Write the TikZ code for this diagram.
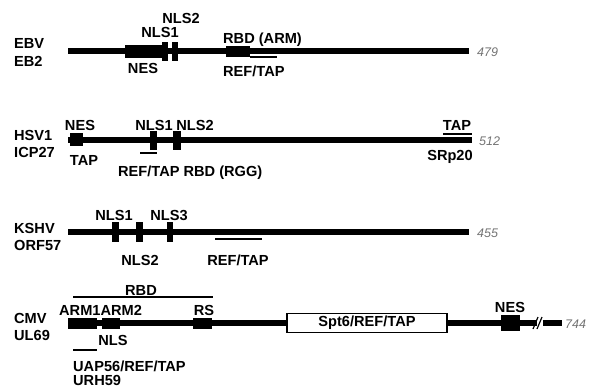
\documentclass[tikz,border=0pt]{standalone}
\usepackage{fontspec}
\setmainfont{Liberation Sans}
\begin{document}
\begin{tikzpicture}[x=1pt,y=-1pt,
  bb/.style={line width=6pt},
  thinl/.style={line width=2pt},
  dom/.style={fill=black,draw=none,inner sep=0pt,outer sep=0pt,rectangle},
  lab/.style={inner sep=0pt,font=\bfseries\fontsize{14.6}{14.6}\selectfont},
  num/.style={inner sep=0pt,text=black!55,font=\itshape\fontsize{12.5}{12.5}\selectfont},
  spt/.style={draw=black,line width=1.6pt,fill=white,inner sep=0pt,minimum width=160pt,minimum height=19pt,font=\bfseries\fontsize{14.6}{14.6}\selectfont}
]
\useasboundingbox (0,0) rectangle (591,388);
% ---------------- EBV EB2
\coordinate (e0) at (68,51); \coordinate (e1) at (469,51);
\draw[bb] (e0) -- (e1);
\node[dom,minimum width=42pt,minimum height=13pt] (ebvnes) at (146,51) {};
\node[dom,minimum width=6pt,minimum height=19pt] (ebvn1) at (164.5,51) {};
\node[dom,minimum width=6pt,minimum height=19pt] (ebvn2) at (175,51) {};
\node[dom,minimum width=24pt,minimum height=11pt] (ebvrbd) at (238,51.5) {};
\coordinate (er0) at (250,57); \coordinate (er1) at (277,57);
\draw[thinl] (er0) -- (er1);
\node[lab,anchor=base west] (ebvA) at (14,48) {EBV};
\node[lab,anchor=base west] (ebvB) at (14,66) {EB2};
\node[lab,anchor=base] (ebvL2) at (181,23) {NLS2};
\node[lab,anchor=base] (ebvL1) at (160,37) {NLS1};
\node[lab,anchor=base] (ebvLn) at (143,73) {NES};
\node[lab,anchor=base west] (ebvLr) at (223,43) {RBD (ARM)};
\node[lab,anchor=base west] (ebvLt) at (223,76) {REF/TAP};
\node[num,anchor=base west] (ebvN) at (477,56) {479};
% ---------------- HSV1 ICP27
\coordinate (h0) at (68,140); \coordinate (h1) at (472,140);
\draw[bb] (h0) -- (h1);
\node[dom,minimum width=13pt,minimum height=13pt] (hsvnes) at (76.5,139.5) {};
\node[dom,minimum width=7pt,minimum height=19pt] (hsvn1) at (153.5,140.5) {};
\node[dom,minimum width=8pt,minimum height=19pt] (hsvn2) at (177,140.5) {};
\coordinate (hr0) at (140,153); \coordinate (hr1) at (157,153);
\draw[thinl] (hr0) -- (hr1);
\coordinate (ht0) at (443,134); \coordinate (ht1) at (472,134);
\draw[thinl] (ht0) -- (ht1);
\node[lab,anchor=base west] (hsvA) at (14,140) {HSV1};
\node[lab,anchor=base west] (hsvB) at (14,157) {ICP27};
\node[lab,anchor=base] (hsvLn) at (80,130) {NES};
\node[lab,anchor=base] (hsvLt) at (84,165) {TAP};
\node[lab,anchor=base] (hsvL1) at (154,130) {NLS1};
\node[lab,anchor=base] (hsvL2) at (195,130) {NLS2};
\node[lab,anchor=base west] (hsvLr) at (118,176) {REF/TAP RBD (RGG)};
\node[lab,anchor=base] (hsvLtap) at (457,130) {TAP};
\node[lab,anchor=base] (hsvLsr) at (450,160) {SRp20};
\node[num,anchor=base west] (hsvN) at (479,145) {512};
% ---------------- KSHV ORF57
\coordinate (k0) at (68,232); \coordinate (k1) at (469,232);
\draw[bb] (k0) -- (k1);
\node[dom,minimum width=7pt,minimum height=20pt] (kn1) at (115.5,232) {};
\node[dom,minimum width=7pt,minimum height=20pt] (kn2) at (139,232) {};
\node[dom,minimum width=6pt,minimum height=20pt] (kn3) at (169.5,232) {};
\coordinate (kr0) at (215,239); \coordinate (kr1) at (262,239);
\draw[thinl] (kr0) -- (kr1);
\node[lab,anchor=base west] (kA) at (14,233) {KSHV};
\node[lab,anchor=base west] (kB) at (14,250) {ORF57};
\node[lab,anchor=base] (kL1) at (114,220) {NLS1};
\node[lab,anchor=base] (kL3) at (169,220) {NLS3};
\node[lab,anchor=base] (kL2) at (140,265) {NLS2};
\node[lab,anchor=base] (kLr) at (238,265) {REF/TAP};
\node[num,anchor=base west] (kN) at (477,237) {455};
% ---------------- CMV UL69
\coordinate (c0) at (68,323); \coordinate (c1) at (537,323);
\coordinate (c2) at (543,323); \coordinate (c3) at (562,323);
\draw[bb] (c0) -- (c1);
\draw[bb] (c2) -- (c3);
\node[dom,minimum width=29pt,minimum height=11pt] (arm1) at (82.5,323.5) {};
\node[dom,minimum width=18pt,minimum height=11pt] (arm2) at (111,323.5) {};
\node[dom,minimum width=19pt,minimum height=11pt] (rs) at (202.5,323.5) {};
\node[spt] (spt6) at (367,323) {Spt6/REF/TAP};
\node[dom,minimum width=19pt,minimum height=16pt] (cnes) at (510.5,323) {};
\coordinate (s1a) at (533,329); \coordinate (s1b) at (538,317);
\coordinate (s2a) at (537,329); \coordinate (s2b) at (542,317);
\draw[line width=1.2pt] (s1a) -- (s1b);
\draw[line width=1.2pt] (s2a) -- (s2b);
\coordinate (cr0) at (73,297); \coordinate (cr1) at (213,297);
\draw[thinl] (cr0) -- (cr1);
\coordinate (cu0) at (73,350); \coordinate (cu1) at (97,350);
\draw[thinl] (cu0) -- (cu1);
\node[lab,anchor=base west] (cA) at (14,323) {CMV};
\node[lab,anchor=base west] (cB) at (14,340) {UL69};
\node[lab,anchor=base] (cLrbd) at (141,295) {RBD};
\node[lab,anchor=base west] (cLarm) at (59,315) {ARM1ARM2};
\node[lab,anchor=base] (cLrs) at (204,315) {RS};
\node[lab,anchor=base] (cLnls) at (113,345) {NLS};
\node[lab,anchor=base west] (cLu) at (73,371) {UAP56/REF/TAP};
\node[lab,anchor=base west] (cLu2) at (73,385) {URH59};
\node[lab,anchor=base] (cLnes) at (510,312) {NES};
\node[num,anchor=base west] (cN) at (565,328) {744};
\end{tikzpicture}
\end{document}
